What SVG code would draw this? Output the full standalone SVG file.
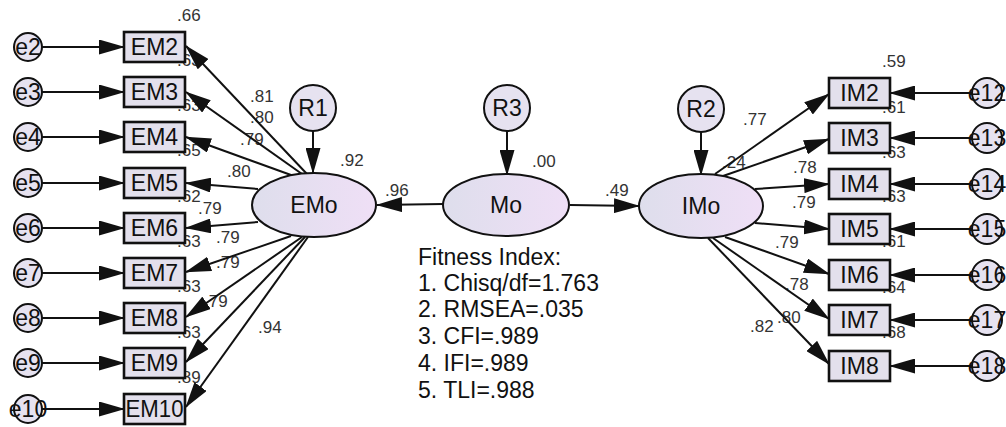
<svg xmlns="http://www.w3.org/2000/svg" width="1006" height="427" viewBox="0 0 1006 427">
<defs>
<style>
.lbl{font-family:"Liberation Sans",Arial,sans-serif;font-size:17px;fill:#333}
.nt{font-family:"Liberation Sans",Arial,sans-serif;font-size:23px;fill:#111;text-anchor:middle}
.fit{font-family:"Liberation Sans",Arial,sans-serif;font-size:23px;fill:#111}
.box{fill:#e3e0ec;stroke:#111;stroke-width:2.6}
.cir{fill:#e6e2f0;stroke:#111;stroke-width:2}
.ell{fill:url(#eg);stroke:#111;stroke-width:2}
.con line{stroke:#111;stroke-width:2;marker-end:url(#ah)}
</style>
<linearGradient id="eg" x1="0" y1="0" x2="1" y2="0">
<stop offset="0" stop-color="#dedeec"/>
<stop offset="1" stop-color="#efdff6"/>
</linearGradient>
<marker id="ah" markerUnits="userSpaceOnUse" markerWidth="26" markerHeight="15" refX="25" refY="7.5" orient="auto">
<path d="M0,0 L26,7.5 L0,15 z" fill="#111"/>
</marker>
</defs>
<rect width="1006" height="427" fill="#fff"/>

<g id="labels" class="lbl">
<text x="177" y="21">.66</text>
<text x="177" y="66">.63</text>
<text x="177" y="111">.63</text>
<text x="177" y="156">.65</text>
<text x="177" y="202">.62</text>
<text x="177" y="247">.63</text>
<text x="177" y="292">.63</text>
<text x="177" y="338">.63</text>
<text x="177" y="383">.89</text>
<text x="250" y="102">.81</text>
<text x="250" y="123">.80</text>
<text x="240" y="145">.79</text>
<text x="227" y="177">.80</text>
<text x="198" y="214">.79</text>
<text x="216" y="243">.79</text>
<text x="216" y="268">.79</text>
<text x="204" y="307">.79</text>
<text x="258" y="333">.94</text>
<text x="340" y="166">.92</text>
<text x="385" y="196">.96</text>
<text x="532" y="167">.00</text>
<text x="605" y="196">.49</text>
<text x="882" y="67">.59</text>
<text x="882" y="113">.61</text>
<text x="882" y="158">.63</text>
<text x="882" y="202">.63</text>
<text x="882" y="247">.61</text>
<text x="882" y="293">.64</text>
<text x="882" y="338">.68</text>
<text x="743" y="125">.77</text>
<text x="722" y="168">.24</text>
<text x="793" y="173">.78</text>
<text x="792" y="208">.79</text>
<text x="775" y="248">.79</text>
<text x="785" y="290">.78</text>
<text x="777" y="323">.80</text>
<text x="750" y="332">.82</text>
</g>

<g id="fitness" class="fit">
<text x="418" y="265">Fitness Index:</text>
<text x="418" y="291">1. Chisq/df=1.763</text>
<text x="418" y="317">2. RMSEA=.035</text>
<text x="418" y="344">3. CFI=.989</text>
<text x="418" y="371">4. IFI=.989</text>
<text x="418" y="398">5. TLI=.988</text>
</g>

<g id="connectors" class="con">
<line x1="42" y1="47" x2="124" y2="47"/>
<line x1="42" y1="92" x2="124" y2="92"/>
<line x1="42" y1="137" x2="124" y2="137"/>
<line x1="42" y1="183" x2="124" y2="183"/>
<line x1="42" y1="228" x2="124" y2="228"/>
<line x1="42" y1="273" x2="124" y2="273"/>
<line x1="42" y1="318" x2="124" y2="318"/>
<line x1="42" y1="363" x2="124" y2="363"/>
<line x1="42" y1="409" x2="124" y2="409"/>
<line x1="307" y1="174" x2="186" y2="46"/>
<line x1="302" y1="174" x2="186" y2="92"/>
<line x1="291" y1="175" x2="186" y2="137"/>
<line x1="258" y1="189" x2="186" y2="183"/>
<line x1="258" y1="222" x2="186" y2="228"/>
<line x1="291" y1="236" x2="186" y2="272"/>
<line x1="302" y1="237" x2="186" y2="317"/>
<line x1="305" y1="237" x2="186" y2="362"/>
<line x1="308" y1="237" x2="186" y2="407"/>
<line x1="313" y1="131" x2="313" y2="173"/>
<line x1="507" y1="131" x2="507" y2="175"/>
<line x1="701" y1="132" x2="701" y2="175"/>
<line x1="443" y1="204" x2="377" y2="205"/>
<line x1="570" y1="205" x2="639" y2="206"/>
<line x1="715" y1="174" x2="829" y2="94"/>
<line x1="723" y1="176" x2="829" y2="139"/>
<line x1="755" y1="189" x2="829" y2="184"/>
<line x1="755" y1="223" x2="829" y2="229"/>
<line x1="725" y1="237" x2="829" y2="274"/>
<line x1="713" y1="238" x2="829" y2="319"/>
<line x1="708" y1="238" x2="829" y2="364"/>
<line x1="972" y1="93" x2="890" y2="93"/>
<line x1="972" y1="138" x2="890" y2="138"/>
<line x1="972" y1="184" x2="890" y2="184"/>
<line x1="972" y1="229" x2="890" y2="229"/>
<line x1="972" y1="275" x2="890" y2="275"/>
<line x1="972" y1="320" x2="890" y2="320"/>
<line x1="972" y1="366" x2="890" y2="366"/>
</g>

<g id="e2"><circle class="cir" cx="28" cy="47" r="14"/><text class="nt" x="28" y="55">e2</text></g>
<g id="e3"><circle class="cir" cx="28" cy="92" r="14"/><text class="nt" x="28" y="100">e3</text></g>
<g id="e4"><circle class="cir" cx="28" cy="137" r="14"/><text class="nt" x="28" y="145">e4</text></g>
<g id="e5"><circle class="cir" cx="28" cy="183" r="14"/><text class="nt" x="28" y="191">e5</text></g>
<g id="e6"><circle class="cir" cx="28" cy="228" r="14"/><text class="nt" x="28" y="236">e6</text></g>
<g id="e7"><circle class="cir" cx="28" cy="273" r="14"/><text class="nt" x="28" y="281">e7</text></g>
<g id="e8"><circle class="cir" cx="28" cy="318" r="14"/><text class="nt" x="28" y="326">e8</text></g>
<g id="e9"><circle class="cir" cx="28" cy="363" r="14"/><text class="nt" x="28" y="371">e9</text></g>
<g id="e10"><circle class="cir" cx="28" cy="409" r="14"/><text class="nt" x="28" y="417">e10</text></g>

<g id="EM2"><rect class="box" x="124" y="32" width="61" height="30"/><text class="nt" x="154.5" y="55">EM2</text></g>
<g id="EM3"><rect class="box" x="124" y="77" width="61" height="30"/><text class="nt" x="154.5" y="100">EM3</text></g>
<g id="EM4"><rect class="box" x="124" y="122" width="61" height="30"/><text class="nt" x="154.5" y="145">EM4</text></g>
<g id="EM5"><rect class="box" x="124" y="168" width="61" height="30"/><text class="nt" x="154.5" y="191">EM5</text></g>
<g id="EM6"><rect class="box" x="124" y="213" width="61" height="30"/><text class="nt" x="154.5" y="236">EM6</text></g>
<g id="EM7"><rect class="box" x="124" y="258" width="61" height="30"/><text class="nt" x="154.5" y="281">EM7</text></g>
<g id="EM8"><rect class="box" x="124" y="303" width="61" height="30"/><text class="nt" x="154.5" y="326">EM8</text></g>
<g id="EM9"><rect class="box" x="124" y="348" width="61" height="30"/><text class="nt" x="154.5" y="371">EM9</text></g>
<g id="EM10"><rect class="box" x="124" y="394" width="61" height="30"/><text class="nt" x="154.5" y="417" textLength="58" lengthAdjust="spacingAndGlyphs">EM10</text></g>

<g id="R1"><circle class="cir" cx="313" cy="108" r="23"/><text class="nt" x="313" y="116">R1</text></g>
<g id="R3"><circle class="cir" cx="507" cy="108" r="23"/><text class="nt" x="507" y="116">R3</text></g>
<g id="R2"><circle class="cir" cx="701" cy="109" r="23"/><text class="nt" x="701" y="117">R2</text></g>

<g id="EMo"><ellipse class="ell" cx="314" cy="205" rx="62" ry="32"/><text class="nt" x="314" y="213">EMo</text></g>
<g id="Mo"><ellipse class="ell" cx="506" cy="205" rx="63" ry="31"/><text class="nt" x="506" y="213">Mo</text></g>
<g id="IMo"><ellipse class="ell" cx="701" cy="206" rx="62" ry="32"/><text class="nt" x="701" y="214">IMo</text></g>

<g id="IM2"><rect class="box" x="829" y="78" width="61" height="30"/><text class="nt" x="859.5" y="101">IM2</text></g>
<g id="IM3"><rect class="box" x="829" y="123" width="61" height="30"/><text class="nt" x="859.5" y="146">IM3</text></g>
<g id="IM4"><rect class="box" x="829" y="169" width="61" height="30"/><text class="nt" x="859.5" y="192">IM4</text></g>
<g id="IM5"><rect class="box" x="829" y="214" width="61" height="30"/><text class="nt" x="859.5" y="237">IM5</text></g>
<g id="IM6"><rect class="box" x="829" y="260" width="61" height="30"/><text class="nt" x="859.5" y="283">IM6</text></g>
<g id="IM7"><rect class="box" x="829" y="305" width="61" height="30"/><text class="nt" x="859.5" y="328">IM7</text></g>
<g id="IM8"><rect class="box" x="829" y="351" width="61" height="30"/><text class="nt" x="859.5" y="374">IM8</text></g>

<g id="e12"><circle class="cir" cx="987" cy="93" r="15"/><text class="nt" x="987" y="101">e12</text></g>
<g id="e13"><circle class="cir" cx="987" cy="138" r="15"/><text class="nt" x="987" y="146">e13</text></g>
<g id="e14"><circle class="cir" cx="987" cy="184" r="15"/><text class="nt" x="987" y="192">e14</text></g>
<g id="e15"><circle class="cir" cx="987" cy="229" r="15"/><text class="nt" x="987" y="237">e15</text></g>
<g id="e16"><circle class="cir" cx="987" cy="275" r="15"/><text class="nt" x="987" y="283">e16</text></g>
<g id="e17"><circle class="cir" cx="987" cy="320" r="15"/><text class="nt" x="987" y="328">e17</text></g>
<g id="e18"><circle class="cir" cx="987" cy="366" r="15"/><text class="nt" x="987" y="374">e18</text></g>
</svg>
